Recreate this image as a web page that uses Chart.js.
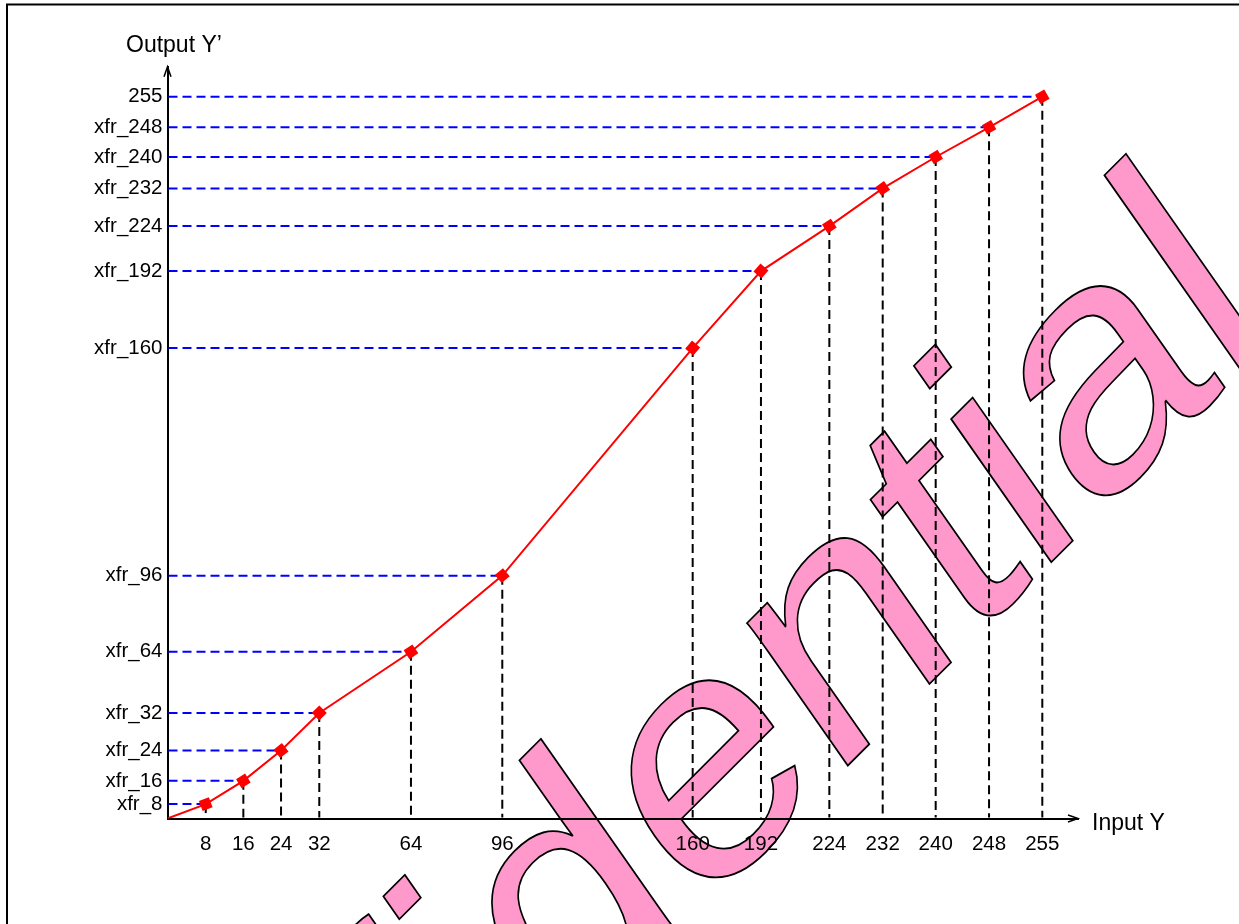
<!DOCTYPE html>
<html>
<head>
<meta charset="utf-8">
<script src="https://cdn.jsdelivr.net/npm/chart.js@4.4.1/dist/chart.umd.min.js"></script>
<style>
  html, body { margin: 0; padding: 0; background: #fff; }
  canvas { display: block; }
</style>
</head>
<body>
<canvas id="myChart" width="1239" height="924"></canvas>
<script>
// transfer curve: input level -> output level (outputs are estimates, the picture only names them xfr_N)
const inputVals = [0, 8, 16, 24, 32, 64, 96, 160, 192, 224, 232, 240, 248, 255];
const outputVals = [0, 5.1, 13.3, 24, 37.3, 58.9, 85.8, 166.2, 193.4, 209.3, 222.6, 233.7, 244.2, 255];
const xTickLabels = ['8', '16', '24', '32', '64', '96', '160', '192', '224', '232', '240', '248', '255'];
const yTickLabels = ['xfr_8', 'xfr_16', 'xfr_24', 'xfr_32', 'xfr_64', 'xfr_96', 'xfr_160', 'xfr_192', 'xfr_224', 'xfr_232', 'xfr_240', 'xfr_248', '255'];

const FONT = '"Liberation Sans", Arial, sans-serif';

// the input axis of the drawing is not to scale, so use a piecewise linear scale
class SchematicScale extends Chart.LinearScale {
  toFraction(value) {
    const stops = this.options.stops;
    if (value <= stops[0][0]) return stops[0][1];
    for (let i = 1; i < stops.length; i++) {
      if (value <= stops[i][0]) {
        const a = stops[i - 1], b = stops[i];
        return a[1] + (value - a[0]) / (b[0] - a[0]) * (b[1] - a[1]);
      }
    }
    return stops[stops.length - 1][1];
  }
  getPixelForValue(value) {
    return this.getPixelForDecimal(this.toFraction(value));
  }
  getValueForPixel(pixel) {
    const f = this.getDecimalForPixel(pixel);
    const stops = this.options.stops;
    for (let i = 1; i < stops.length; i++) {
      if (f <= stops[i][1]) {
        const a = stops[i - 1], b = stops[i];
        return a[0] + (f - a[1]) / (b[1] - a[1]) * (b[0] - a[0]);
      }
    }
    return stops[stops.length - 1][0];
  }
}
SchematicScale.id = 'schematic';
SchematicScale.defaults = Chart.LinearScale.defaults;
Chart.register(SchematicScale);

const points = inputVals.map((v, i) => ({ x: v, y: outputVals[i] }));

const drawingPlugin = {
  id: 'drawing',
  beforeDraw(chart) {
    const ctx = chart.ctx;
    ctx.save();
    ctx.fillStyle = '#fff';
    ctx.fillRect(0, 0, chart.width, chart.height);

    // watermark
    ctx.setTransform(0.7071, -0.7071, 0.548, 0.783, -12.4, 1625.8);
    ctx.font = '346px ' + FONT;
    ctx.textBaseline = 'alphabetic';
    ctx.textAlign = 'left';
    ctx.fillStyle = '#FF99CC';
    ctx.fillText('Confidential', 0, 0);
    ctx.lineWidth = 1.8;
    ctx.strokeStyle = '#000';
    ctx.strokeText('Confidential', 0, 0);
    ctx.setTransform(1, 0, 0, 1, 0, 0);

    // frame (left and top edges)
    ctx.strokeStyle = '#000';
    ctx.lineWidth = 2;
    ctx.beginPath();
    ctx.moveTo(7, chart.height);
    ctx.lineTo(7, 4.5);
    ctx.lineTo(chart.width, 4.5);
    ctx.stroke();
    ctx.restore();
  },
  beforeDatasetsDraw(chart) {
    const ctx = chart.ctx;
    const xs = chart.scales.x, ys = chart.scales.y;
    const area = chart.chartArea;
    ctx.save();
    ctx.lineWidth = 2;
    ctx.setLineDash([9, 5]);
    for (let i = 1; i < inputVals.length; i++) {
      const px = xs.getPixelForValue(inputVals[i]);
      const py = ys.getPixelForValue(outputVals[i]);
      ctx.strokeStyle = '#0000FF';
      ctx.beginPath();
      ctx.moveTo(area.left + 1, py);
      ctx.lineTo(px, py);
      ctx.stroke();
      ctx.strokeStyle = '#000';
      ctx.beginPath();
      ctx.moveTo(px, py);
      ctx.lineTo(px, area.bottom - 1);
      ctx.stroke();
    }
    ctx.restore();
  },
  afterDraw(chart) {
    const ctx = chart.ctx;
    const area = chart.chartArea;
    ctx.save();
    ctx.strokeStyle = '#000';
    ctx.lineWidth = 1.5;
    ctx.beginPath();
    ctx.moveTo(area.left - 3.5, area.top + 10);
    ctx.lineTo(area.left, area.top);
    ctx.lineTo(area.left + 3.5, area.top + 10);
    ctx.moveTo(area.right - 10, area.bottom - 3.5);
    ctx.lineTo(area.right, area.bottom);
    ctx.lineTo(area.right - 10, area.bottom + 3.5);
    ctx.stroke();

    ctx.fillStyle = '#000';
    ctx.font = '23px ' + FONT;
    ctx.textBaseline = 'alphabetic';
    ctx.textAlign = 'left';
    ctx.fillText('Output Y\u2019', 126, 52);
    ctx.fillText('Input Y', 1092, 829.5);
    ctx.restore();
  }
};

const ctx = document.getElementById('myChart').getContext('2d');
const myChart = new Chart(ctx, {
  type: 'line',
  data: {
    datasets: [{
      data: points,
      borderColor: '#FF0000',
      borderWidth: 2,
      tension: 0,
      pointStyle: 'rect',
      pointRadius: (c) => c.dataIndex === 0 ? 0 : 7.5,
      pointBackgroundColor: '#FF0000',
      pointBorderColor: '#FF0000',
      pointBorderWidth: 0,
      pointRotation: (c) => {
        const i = c.dataIndex;
        if (i === 0) return 0;
        const xs = c.chart.scales.x, ys = c.chart.scales.y;
        const dx = xs.getPixelForValue(inputVals[i]) - xs.getPixelForValue(inputVals[i - 1]);
        const dy = ys.getPixelForValue(outputVals[i]) - ys.getPixelForValue(outputVals[i - 1]);
        return Math.atan2(dy, dx) * 180 / Math.PI;
      }
    }]
  },
  options: {
    responsive: false,
    animation: false,
    devicePixelRatio: 1,
    layout: { padding: { left: 0, top: 66.7, right: 161, bottom: 65.5 } },
    plugins: {
      legend: { display: false },
      tooltip: { enabled: false }
    },
    scales: {
      x: {
        type: 'schematic',
        position: 'bottom',
        min: 0,
        max: 262,
        stops: [[0, 0], [8, 0.0420], [16, 0.0833], [24, 0.1247], [32, 0.1667], [64, 0.2674], [96, 0.3677],
                [160, 0.5768], [192, 0.6518], [224, 0.7269], [232, 0.7855], [240, 0.8437], [248, 0.9023],
                [255, 0.9608], [262, 1]],
        grid: { display: false, drawTicks: false },
        border: { display: true, color: '#000', width: 2 },
        afterBuildTicks: (s) => { s.ticks = inputVals.slice(1).map(v => ({ value: v })); },
        afterFit: (s) => { s.height = 40; },
        ticks: {
          autoSkip: false,
          maxRotation: 0,
          minRotation: 0,
          padding: 14,
          color: '#000',
          font: { family: FONT, size: 20.5 },
          callback: (v, i) => xTickLabels[i]
        }
      },
      y: {
        type: 'linear',
        min: 0,
        max: 265.6,
        grid: { display: false, drawTicks: false },
        border: { display: true, color: '#000', width: 2 },
        afterBuildTicks: (s) => { s.ticks = outputVals.slice(1).map(v => ({ value: v })); },
        afterFit: (s) => { s.width = 167.5; },
        ticks: {
          autoSkip: false,
          padding: 5,
          color: '#000',
          font: { family: FONT, size: 20.5 },
          callback: (v, i) => yTickLabels[i]
        }
      }
    }
  },
  plugins: [drawingPlugin]
});
</script>
</body>
</html>
